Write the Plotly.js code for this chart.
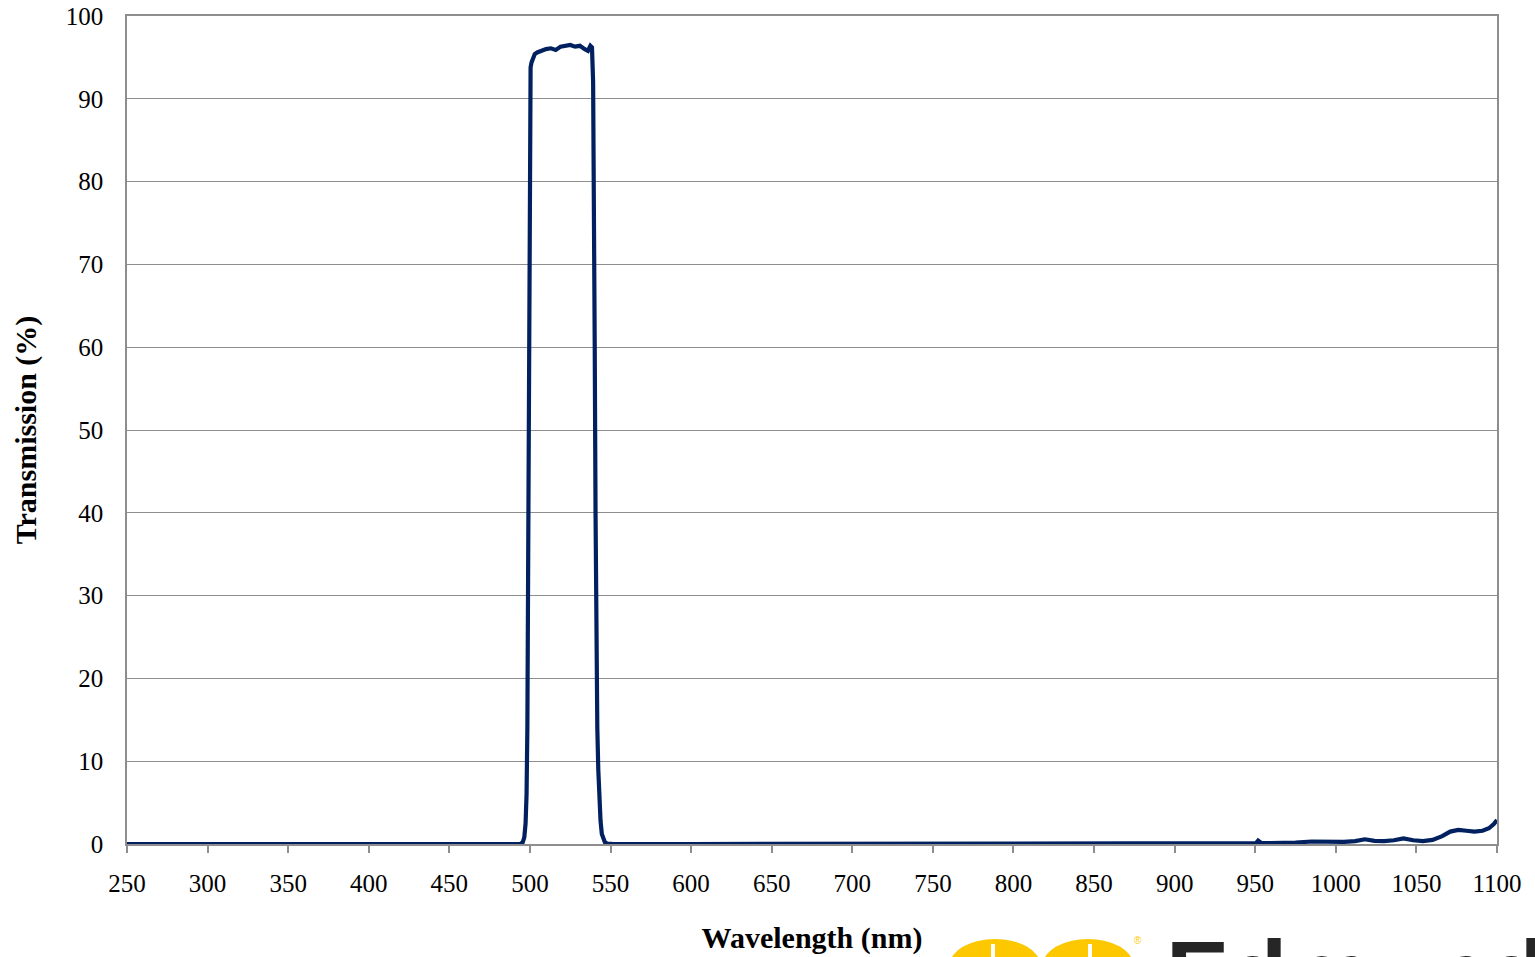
<!DOCTYPE html>
<html>
<head>
<meta charset="utf-8">
<script src="https://cdn.plot.ly/plotly-3.0.1.min.js"></script>
<style>html,body{margin:0;padding:0;background:#fff;}#chart{width:1535px;height:957px;}</style>
</head>
<body>
<div id="chart"></div>
<script>
const wavelength = [250, 300, 350, 400, 450, 480, 494, 495.5, 496.5, 497.3, 497.9, 498.4, 498.8, 499.2, 499.6, 500, 500.4, 501, 502, 503, 504.5, 507, 510, 513, 516, 519, 522, 525, 528, 531, 534, 536, 537.5, 538.5, 539.2, 539.7, 540.2, 540.7, 541.2, 541.8, 542.4, 543, 543.8, 544.6, 545.5, 546.5, 548, 552, 600, 700, 800, 900, 948, 950.5, 951.8, 953.5, 957, 965, 975, 985, 995, 1005, 1012, 1018, 1024, 1030, 1036, 1042, 1048, 1054, 1060, 1066, 1071, 1076, 1081, 1086, 1091, 1095, 1098, 1100];
const transmission = [0, 0, 0, 0, 0, 0, 0, 0.2, 0.8, 2.5, 6, 14, 28, 48, 70, 86, 93.8, 94.4, 94.9, 95.4, 95.6, 95.8, 96.0, 96.1, 95.9, 96.3, 96.4, 96.5, 96.3, 96.4, 96.0, 95.8, 96.4, 96.2, 92, 80, 60, 40, 24, 14, 9, 5.5, 2.8, 1.2, 0.5, 0.2, 0.05, 0, 0, 0, 0, 0, 0, 0.1, 0.4, 0.15, 0.1, 0.12, 0.18, 0.3, 0.22, 0.25, 0.35, 0.57, 0.38, 0.35, 0.45, 0.68, 0.45, 0.35, 0.5, 0.95, 1.5, 1.7, 1.6, 1.5, 1.6, 1.9, 2.4, 2.9];
const xTicks = [250, 300, 350, 400, 450, 500, 550, 600, 650, 700, 750, 800, 850, 900, 950, 1000, 1050, 1100];
const yTicks = [0, 10, 20, 30, 40, 50, 60, 70, 80, 90, 100];
const xTitle = 'Wavelength (nm)';
const yTitle = 'Transmission (%)';
const logoText = 'Edmund';

const grid = '#8e8e8e';
const serif = 'Liberation Serif, Times New Roman, serif';

const trace = {
  x: wavelength, y: transmission, type: 'scatter', mode: 'lines',
  line: {color: '#002060', width: 4.2}, hoverinfo: 'x+y'
};

const layout = {
  width: 1535, height: 957,
  margin: {l: 127, r: 38, t: 16, b: 113},
  paper_bgcolor: '#ffffff', plot_bgcolor: '#ffffff',
  showlegend: false,
  font: {family: serif, color: '#000', size: 25},
  xaxis: {
    range: [250, 1100], tickvals: xTicks, ticktext: xTicks.map(String),
    showgrid: false, zeroline: false, showline: true, linecolor: grid, linewidth: 1.5, mirror: true,
    ticks: 'outside', ticklen: 7, tickcolor: grid, tickwidth: 1.5, ticklabelstandoff: 9,
    tickfont: {family: serif, size: 25, color: '#000'},
    title: {text: xTitle, font: {family: serif, size: 30, color: '#000', weight: 'bold'}, standoff: 31},
    automargin: false, fixedrange: true
  },
  yaxis: {
    range: [0, 100], tickvals: yTicks, ticktext: yTicks.map(String),
    showgrid: true, gridcolor: grid, gridwidth: 1.3, zeroline: false,
    showline: true, linecolor: grid, linewidth: 1.5, mirror: true,
    ticks: '', ticklabelstandoff: 17,
    tickfont: {family: serif, size: 25, color: '#000'},
    title: {text: yTitle, font: {family: serif, size: 30, color: '#000', weight: 'bold'}, standoff: 20},
    automargin: false, fixedrange: true
  },
  shapes: [
    {type: 'circle', xref: 'paper', yref: 'paper', x0: (950-127)/1370, x1: (1040-127)/1370, y0: (844-990)/828, y1: (844-939)/828, fillcolor: '#fdc800', line: {width: 0}, layer: 'above'},
    {type: 'circle', xref: 'paper', yref: 'paper', x0: (1043-127)/1370, x1: (1133-127)/1370, y0: (844-990)/828, y1: (844-939)/828, fillcolor: '#fdc800', line: {width: 0}, layer: 'above'},
    {type: 'rect', xref: 'paper', yref: 'paper', x0: (991-127)/1370, x1: (995-127)/1370, y0: (844-990)/828, y1: (844-944)/828, fillcolor: '#ffffff', line: {width: 0}, layer: 'above'},
    {type: 'rect', xref: 'paper', yref: 'paper', x0: (1088-127)/1370, x1: (1092-127)/1370, y0: (844-990)/828, y1: (844-944)/828, fillcolor: '#ffffff', line: {width: 0}, layer: 'above'}
  ],
  annotations: [
    {xref: 'paper', yref: 'paper', x: (1138-127)/1370, y: (844-940)/828, text: '®', showarrow: false, font: {family: 'Liberation Sans, Arial, sans-serif', size: 10, color: '#fdc800'}, xanchor: 'center', yanchor: 'middle'},
    {xref: 'paper', yref: 'paper', x: (1164-127)/1370, y: (844-919)/828, text: logoText, showarrow: false, font: {family: 'Liberation Sans, Arial, sans-serif', size: 95, color: '#262626', weight: 'bold'}, xanchor: 'left', yanchor: 'top'}
  ]
};

Plotly.newPlot('chart', [trace], layout, {displayModeBar: false});
</script>
</body>
</html>
